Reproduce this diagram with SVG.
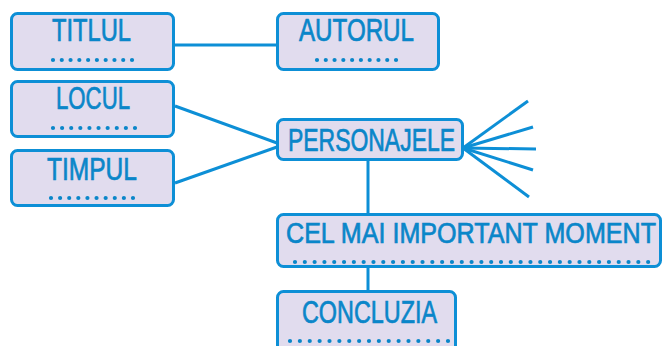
<svg xmlns="http://www.w3.org/2000/svg" width="662" height="346" viewBox="0 0 662 346">
<style>
.box{fill:#e1dcee;stroke:#0d8fd6;stroke-width:3}
.lbl{font-family:"Liberation Sans",Arial,sans-serif;font-size:31px;fill:#0a86c9;stroke:#0a86c9;stroke-width:0.7}
.dots{stroke:#0a86c9;stroke-width:4.2;stroke-linecap:round;fill:none}
.con{stroke:#0d8fd6;stroke-width:3;fill:none}
</style>
<rect width="662" height="346" fill="#ffffff"/>
<g id="connectors" class="con">
<line x1="174" y1="45" x2="277" y2="45"/>
<line x1="175" y1="106" x2="277" y2="143"/>
<line x1="175" y1="183" x2="277" y2="147"/>
<line x1="463" y1="148" x2="528" y2="101"/>
<line x1="463" y1="148" x2="533" y2="127"/>
<line x1="463" y1="148" x2="536" y2="149"/>
<line x1="463" y1="148" x2="533" y2="170"/>
<line x1="463" y1="148" x2="529" y2="197"/>
<line x1="368" y1="161" x2="368" y2="214"/>
<line x1="368" y1="268" x2="368" y2="291"/>
</g>
<g id="titlul">
<rect class="box" x="11.5" y="13.5" width="162" height="56" rx="6"/>
<text class="lbl" x="52" y="41" textLength="79" lengthAdjust="spacingAndGlyphs">TITLUL</text>
<line class="dots" x1="53" y1="60" x2="132.5" y2="60" stroke-dasharray="0 8.78"/>
</g>
<g id="autorul">
<rect class="box" x="277.5" y="13.5" width="161" height="56" rx="6"/>
<text class="lbl" x="299" y="41" textLength="115" lengthAdjust="spacingAndGlyphs">AUTORUL</text>
<line class="dots" x1="317" y1="60" x2="396.5" y2="60" stroke-dasharray="0 8.78"/>
</g>
<g id="locul">
<rect class="box" x="11.5" y="81.5" width="162" height="55" rx="6"/>
<text class="lbl" x="56" y="109" textLength="74" lengthAdjust="spacingAndGlyphs">LOCUL</text>
<line class="dots" x1="53" y1="128" x2="135.5" y2="128" stroke-dasharray="0 9.11"/>
</g>
<g id="timpul">
<rect class="box" x="11.5" y="150.5" width="162" height="55" rx="6"/>
<text class="lbl" x="47" y="180" textLength="90" lengthAdjust="spacingAndGlyphs">TIMPUL</text>
<line class="dots" x1="51" y1="198" x2="133.5" y2="198" stroke-dasharray="0 9.11"/>
</g>
<g id="personajele">
<rect class="box" x="277.5" y="119.5" width="185" height="40" rx="6"/>
<text class="lbl" x="288" y="151" textLength="167" lengthAdjust="spacingAndGlyphs">PERSONAJELE</text>
</g>
<g id="moment">
<rect class="box" x="277.5" y="214.5" width="383" height="52" rx="6"/>
<text class="lbl" x="286" y="243" textLength="370" lengthAdjust="spacingAndGlyphs" style="font-size:29px">CEL MAI IMPORTANT MOMENT</text>
<line class="dots" x1="295" y1="262" x2="648.5" y2="262" stroke-dasharray="0 9.81"/>
</g>
<g id="concluzia">
<rect class="box" x="277.5" y="291.5" width="178" height="70" rx="6"/>
<text class="lbl" x="302" y="323" textLength="135" lengthAdjust="spacingAndGlyphs">CONCLUZIA</text>
<line class="dots" x1="290" y1="341" x2="448.5" y2="341" stroke-dasharray="0 9.875"/>
</g>
</svg>
